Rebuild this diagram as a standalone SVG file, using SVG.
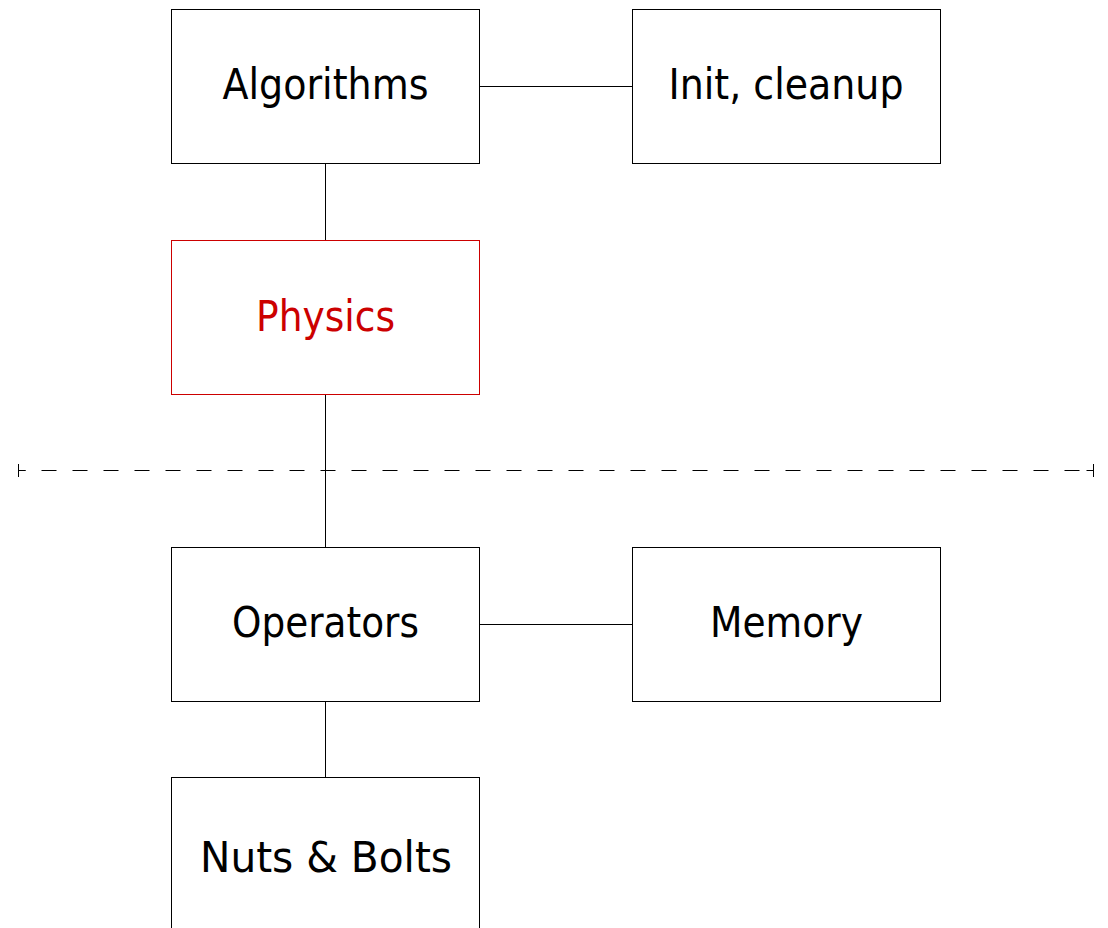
<svg xmlns="http://www.w3.org/2000/svg" width="1108" height="928" viewBox="0 0 1108 928">
<style>
.box{fill:#fff;stroke:#000;stroke-width:1}
.red .box{stroke:#cc0000}
.lbl{font-family:"DejaVu Sans","Liberation Sans",sans-serif;font-size:42px;fill:#000;text-anchor:middle}
.red .lbl{fill:#cc0000}
.conn{stroke:#000;stroke-width:1;fill:none}
</style>
<rect width="1108" height="928" fill="#fff"/>
<g id="connectors">
<line class="conn" x1="479.5" y1="86.5" x2="632.5" y2="86.5"/>
<line class="conn" x1="325.5" y1="163.5" x2="325.5" y2="240.5"/>
<line class="conn" x1="325.5" y1="394.5" x2="325.5" y2="547.5"/>
<line class="conn" x1="479.5" y1="624.5" x2="632.5" y2="624.5"/>
<line class="conn" x1="325.5" y1="701.5" x2="325.5" y2="777.5"/>
</g>
<g id="separator">
<line class="conn" x1="18.5" y1="470.5" x2="1093.5" y2="470.5" stroke-dasharray="15 16" stroke-dashoffset="8"/>
<line class="conn" x1="18.5" y1="470.5" x2="25.5" y2="470.5"/>
<line class="conn" x1="1086.5" y1="470.5" x2="1093.5" y2="470.5"/>
<line class="conn" x1="18.5" y1="464" x2="18.5" y2="477"/>
<line class="conn" x1="1093.5" y1="464" x2="1093.5" y2="477"/>
</g>
<g id="algorithms">
<rect class="box" x="171.5" y="9.5" width="308" height="154"/>
<text class="lbl" x="325.5" y="99" textLength="206" lengthAdjust="spacingAndGlyphs">Algorithms</text>
</g>
<g id="init">
<rect class="box" x="632.5" y="9.5" width="308" height="154"/>
<text class="lbl" x="786" y="99" textLength="235" lengthAdjust="spacingAndGlyphs">Init, cleanup</text>
</g>
<g id="physics" class="red">
<rect class="box" x="171.5" y="240.5" width="308" height="154"/>
<text class="lbl" x="325.5" y="331" textLength="139" lengthAdjust="spacingAndGlyphs">Physics</text>
</g>
<g id="operators">
<rect class="box" x="171.5" y="547.5" width="308" height="154"/>
<text class="lbl" x="325.5" y="637" textLength="187" lengthAdjust="spacingAndGlyphs">Operators</text>
</g>
<g id="memory">
<rect class="box" x="632.5" y="547.5" width="308" height="154"/>
<text class="lbl" x="786.5" y="637" textLength="153" lengthAdjust="spacingAndGlyphs">Memory</text>
</g>
<g id="nuts">
<rect class="box" x="171.5" y="777.5" width="308" height="154"/>
<text class="lbl" x="326" y="872" textLength="252" lengthAdjust="spacingAndGlyphs">Nuts &amp; Bolts</text>
</g>
</svg>
